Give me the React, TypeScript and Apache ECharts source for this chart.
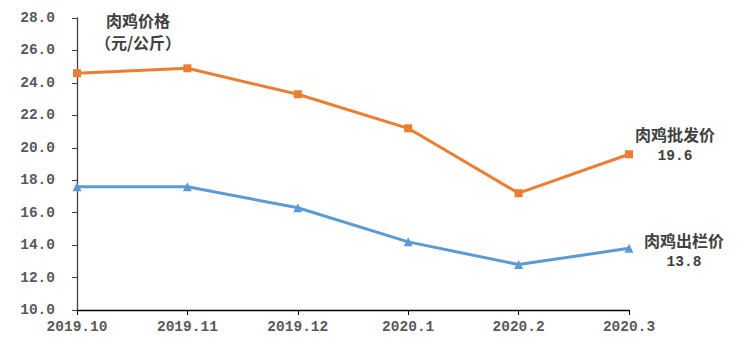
import React, { useEffect, useRef } from "react";
import * as echarts from "echarts";

const categories = ["2019.10", "2019.11", "2019.12", "2020.1", "2020.2", "2020.3"];
const wholesalePrice = [24.6, 24.9, 23.3, 21.2, 17.2, 19.6];
const farmPrice = [17.6, 17.6, 16.3, 14.2, 12.8, 13.8];
const wholesaleName = "肉鸡批发价";
const farmName = "肉鸡出栏价";
const titleLines = ["肉鸡价格", "（元/公斤）"];

const CJK = "'Noto Sans CJK SC', 'Noto Sans', sans-serif";
const MONO = "'Liberation Mono', 'DejaVu Sans Mono', monospace";

export default function App() {
  const ref = useRef<HTMLDivElement>(null);
  useEffect(() => {
    document.body.style.margin = "0";
    const chart = echarts.init(ref.current!, null, { renderer: "svg" });
    const lastLabel = (name: string, pos: number[]) => ({
      show: true,
      position: pos,
      align: "center",
      verticalAlign: "top",
      formatter: (p: any) => `{a|${name}}\n{b|${p.value.toFixed(1)}}`,
      rich: {
        a: { fontFamily: CJK, fontWeight: "bold", fontSize: 16, lineHeight: 22, color: "#404040" },
        b: { fontFamily: MONO, fontWeight: "bold", fontSize: 14.5, lineHeight: 22, color: "#404040" },
      },
    });
    const mk = (arr: number[], name: string, pos: number[]) =>
      arr.map((v, i) => (i === arr.length - 1 ? { value: v, label: lastLabel(name, pos) } : v));
    chart.setOption({
      animation: false,
      grid: { left: 77, right: 121, top: 18, bottom: 44 },
      graphic: [
        {
          type: "text",
          x: 138,
          y: 9,
          style: {
            text: titleLines.join("\n"),
            fontFamily: CJK,
            fontWeight: "bold",
            fontSize: 16,
            lineHeight: 22,
            fill: "#404040",
            align: "center",
            verticalAlign: "top",
          },
        },
      ],
      xAxis: {
        type: "category",
        data: categories,
        boundaryGap: false,
        axisLine: { lineStyle: { color: "#000", width: 1.3 } },
        axisTick: { show: true, length: 5, lineStyle: { color: "#000" } },
        axisLabel: {
          margin: 9,
          color: "#595959",
          fontFamily: MONO,
          fontWeight: "bold",
          fontSize: 14.5,
        },
      },
      yAxis: {
        type: "value",
        min: 10,
        max: 28,
        interval: 2,
        splitLine: { show: false },
        axisLine: { show: true, lineStyle: { color: "#404040", width: 1.3 } },
        axisTick: { show: true, length: 5, lineStyle: { color: "#404040" } },
        axisLabel: {
          margin: 22,
          color: "#595959",
          fontFamily: MONO,
          fontWeight: "bold",
          fontSize: 14.5,
          formatter: (v: number) => v.toFixed(1),
        },
      },
      series: [
        {
          type: "line",
          name: wholesaleName,
          data: mk(wholesalePrice, wholesaleName, [50, -27]),
          symbol: "rect",
          symbolSize: 8,
          lineStyle: { color: "#ED7D31", width: 3 },
          itemStyle: { color: "#ED7D31" },
        },
        {
          type: "line",
          name: farmName,
          data: mk(farmPrice, farmName, [59.5, -14.5]),
          symbol: "triangle",
          symbolSize: 9,
          lineStyle: { color: "#5B9BD5", width: 3 },
          itemStyle: { color: "#5B9BD5" },
        },
      ],
    });
    return () => chart.dispose();
  }, []);
  return <div ref={ref} style={{ width: 750, height: 354 }} />;
}
